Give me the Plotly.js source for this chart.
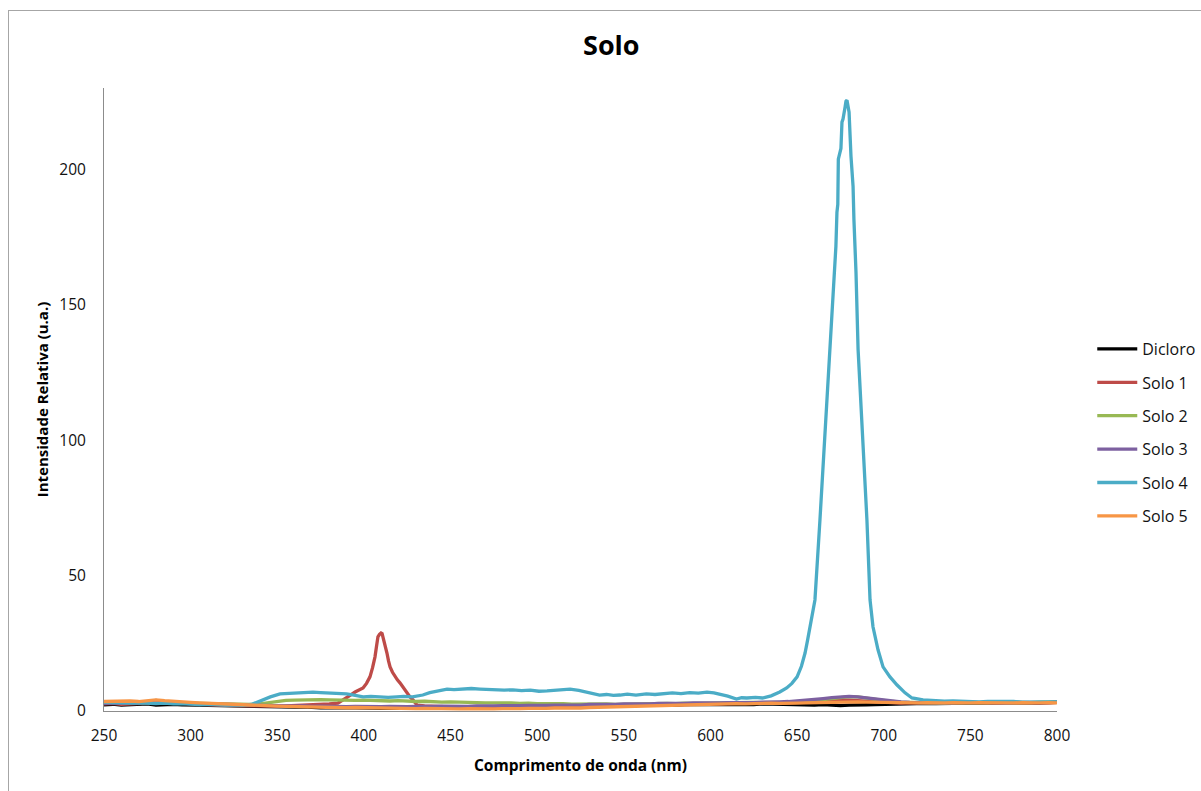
<!DOCTYPE html>
<html>
<head>
<meta charset="utf-8">
<script src="https://cdn.plot.ly/plotly-3.0.1.min.js"></script>
<style>
  html, body { margin: 0; padding: 0; background: #fff; overflow: hidden; }
  #chart { width: 1201px; height: 791px; }
  #frame { position: absolute; left: 8px; top: 10px; width: 1400px; height: 1000px;
           border: 1px solid #a6a6a6; pointer-events: none; }
</style>
</head>
<body>
<div id="chart"></div>
<div id="frame"></div>
<script>
// ---------- data ----------
const seriesNames = ["Dicloro", "Solo 1", "Solo 2", "Solo 3", "Solo 4", "Solo 5"];
const seriesColors = ["#000000", "#be4b48", "#98b954", "#7d60a0", "#4bacc6", "#f79646"];

// common wavelength grid (nm) for the flat spectra: 250, 255, ..., 800
const wl = [250,255,260,265,270,275,280,285,290,295,300,305,310,315,320,325,330,335,340,345,350,355,360,365,370,375,380,385,390,395,400,405,410,415,420,425,430,435,440,445,450,455,460,465,470,475,480,485,490,495,500,505,510,515,520,525,530,535,540,545,550,555,560,565,570,575,580,585,590,595,600,605,610,615,620,625,630,635,640,645,650,655,660,665,670,675,680,685,690,695,700,705,710,715,720,725,730,735,740,745,750,755,760,765,770,775,780,785,790,795,800];

const dicloro = [2.3,2.5,2.2,2.4,2.3,2.6,2.2,2.4,2.5,2.3,2.4,
  2.2,2.1,2.0,2.1,1.9,1.8,1.9,1.7,1.6,1.6,
  1.5,1.4,1.5,1.3,1.2,1.3,1.1,1.2,1.2,1.0,
  1.1,1.0,1.1,0.9,1.0,1.0,0.9,1.0,1.1,1.0,
  1.0,1.1,1.0,1.2,1.1,1.2,1.3,1.2,1.4,1.3,
  1.4,1.5,1.5,1.6,1.7,1.6,1.8,1.9,1.8,2.0,
  2.0,2.1,2.2,2.1,2.3,2.2,2.4,2.3,2.5,2.4,
  2.5,2.4,2.6,2.5,2.4,2.6,2.5,2.3,2.5,2.4,
  2.3,2.2,2.4,2.1,2.0,2.2,2.1,2.3,2.4,2.5,
  2.6,2.5,2.7,2.6,2.8,2.7,2.6,2.8,2.9,2.7,
  2.8,2.9,2.8,3.0,2.9,3.1,3.0,2.9,3.1,3.2];

const solo1X = [250,255,260,265,270,275,280,285,290,295,300,305,310,315,320,325,330,335,340,345,350,355,360,365,370,375,380,385,
  390.2,392,394.9,397,399.5,401.5,403.5,405,406.4,407.3,408.1,409,409.9,410.5,411,412,413.3,414.2,415.1,416.5,417.9,419.3,420.8,422.3,423.7,425.1,426.6,428.3,430.6,
  435,440,445,450,455,460,465,470,475,480,485,490,495,500,505,510,515,520,525,530,535,540,545,550,555,560,565,570,575,580,585,590,595,600,
  605,610,615,620,625,630,635,640,645,650,655,660,665,670,675,680,685,690,695,700,705,710,715,720,725,730,735,740,745,750,755,760,765,770,775,780,785,790,795,800];
const solo1Y = [2.6,2.8,2.5,2.7,2.9,2.8,3.1,3.3,3.0,2.8,2.7,2.5,2.4,2.2,2.1,2.0,1.9,1.8,1.9,1.7,1.8,1.9,2.0,2.2,2.3,2.5,2.6,2.9,
  4.8,5.8,7.0,7.6,8.5,10.2,12.6,16,20,24,27.4,28.3,28.8,28.6,27.4,24.5,21.4,18.5,16.3,14.3,12.6,11.5,10.4,9.0,7.8,6.5,5.2,4.1,2.2,
  1.9,1.7,1.6,1.5,1.5,1.4,1.3,1.4,1.3,1.2,1.3,1.2,1.3,1.4,
  1.4,1.5,1.5,1.6,1.7,1.7,1.8,1.9,2.0,2.0,2.1,2.2,2.3,2.2,2.4,2.5,2.4,2.6,2.5,2.7,
  2.6,2.8,2.7,2.9,2.8,3.0,2.9,2.8,3.0,3.1,3.2,3.4,3.6,3.9,4.1,4.0,3.8,3.5,3.3,3.1,
  3.0,2.9,3.1,3.0,2.9,3.0,3.1,2.9,3.0,3.2,3.0,3.1,2.9,3.0,3.1,3.0,3.2,3.1,3.0,3.2];

const solo2 = [3.0,3.1,2.9,3.0,3.2,3.1,3.3,3.2,3.0,2.9,2.8,
  2.7,2.6,2.5,2.4,2.3,2.3,2.4,2.6,3.0,3.6,
  3.9,4.0,4.1,4.0,4.2,4.1,4.0,4.1,3.9,4.0,
  3.8,3.9,3.7,3.8,3.6,3.5,3.6,3.4,3.3,3.4,
  3.2,3.3,3.1,3.0,3.1,2.9,3.0,2.8,2.9,2.7,
  2.8,2.6,2.7,2.5,2.6,2.4,2.5,2.6,2.4,2.5,
  2.6,2.5,2.7,2.6,2.8,2.7,2.9,2.8,3.0,2.9,
  3.0,3.1,2.9,3.0,3.2,3.1,3.0,3.2,3.3,3.4,
  3.6,3.9,4.2,4.6,5.0,5.3,5.2,4.7,4.2,3.8,
  3.5,3.3,3.2,3.0,3.1,3.0,2.9,3.1,3.0,3.2,
  3.1,3.0,3.2,3.1,3.3,3.2,3.1,3.3,3.2,3.4];

const solo3 = [2.8,3.0,2.9,3.1,3.0,3.3,3.9,3.5,3.1,2.9,2.8,
  2.7,2.5,2.4,2.3,2.2,2.1,2.0,2.1,1.9,2.0,
  1.9,1.8,1.9,1.7,1.8,1.7,1.8,1.6,1.7,1.6,
  1.7,1.6,1.7,1.5,1.6,1.7,1.6,1.7,1.8,1.7,
  1.8,1.7,1.9,1.8,1.9,2.0,1.9,2.0,2.1,2.0,
  2.1,2.2,2.1,2.3,2.2,2.4,2.3,2.5,2.4,2.6,
  2.5,2.7,2.6,2.8,2.7,2.9,2.8,3.0,2.9,3.1,
  3.0,3.1,3.0,3.2,3.1,3.3,3.2,3.4,3.5,3.7,
  3.9,4.2,4.6,4.9,5.1,5.4,5.2,4.8,4.3,3.9,
  3.6,3.4,3.2,3.1,3.2,3.0,3.1,3.0,3.2,3.1,
  3.0,3.2,3.1,3.0,3.2,3.1,3.3,3.2,3.1,3.3];

const solo4X = [250,255,260,265,270,275,280,285,290,295,300,305,310,315,320,325,330,335,
  338,342,346,351.6,356,361,366,370.6,375,380,385,390,395,399.5,404,409,414,419,423,428,434,438,442,445,448,452,457,462,467,
  472,477,481,486,491,496,501,505.7,510,515,519,524,528.8,532,536,540,544,547.8,552,557,563,568,573,578,583,588,593,598,
  602,605.5,610,615,618,621,626,630,635,640,644,647,650,652.5,654.6,656,657.5,659,660.3,
  663.2,665.5,667.8,670.1,671.2,672.4,673.0,673.5,673.8,674.7,675.3,675.9,676.5,677.7,678.2,678.8,679.4,680.0,681.1,682.3,682.8,684.0,685.2,687.5,690.3,692.1,693.8,696.7,699.6,703.6,707.7,712.3,716.3,722.7,
  730,735,740,745,750,755,760,765,770,775,780,785,790,795,800];
const solo4Y = [3.2,3.0,3.1,2.9,3.0,2.8,2.7,2.9,2.6,2.7,2.5,2.4,2.5,2.3,2.2,2.3,2.1,2.4,
  3.2,4.4,5.2,6.3,6.5,6.7,6.9,7.0,6.8,6.7,6.5,6.3,5.8,5.2,5.4,5.2,5.0,5.2,5.4,5.2,5.9,6.8,7.4,7.9,8.1,7.9,8.1,8.3,8.1,
  7.9,8.0,7.7,7.8,7.5,7.7,7.3,7.4,7.6,7.9,8.1,7.6,7.0,6.4,5.9,6.1,5.8,5.9,6.2,5.9,6.3,6.1,6.5,6.7,6.4,6.8,6.6,7.0,
  6.7,6.3,5.5,4.4,4.9,4.8,5.0,4.8,5.6,7.0,8.5,10.2,12.6,16.5,21.4,26,31,36,41,
  70.6,96.5,122.4,144.5,161.9,171.5,184.1,187,203.7,206.7,207.7,217.4,218.5,223,225.1,225.5,223.7,221.1,204.8,193.7,181.5,161.9,133.5,103.9,70.6,41.0,31.1,22.6,16.3,12.6,9.6,6.7,4.8,4.1,
  3.8,3.6,3.7,3.5,3.6,3.4,3.5,3.6,3.4,3.5,3.3,3.4,3.5,3.3,3.4];

const solo5 = [3.5,3.6,3.4,3.7,3.5,3.8,4.1,3.8,3.5,3.3,3.2,
  3.0,2.9,2.7,2.6,2.4,2.3,2.2,2.0,1.9,1.8,
  1.7,1.6,1.5,1.5,1.4,1.3,1.4,1.2,1.3,1.2,
  1.1,1.2,1.0,1.1,1.0,0.9,1.0,0.9,0.8,0.9,
  0.8,0.9,0.8,0.7,0.8,0.9,0.8,0.9,1.0,0.9,
  1.0,1.1,1.0,1.2,1.1,1.3,1.4,1.3,1.5,1.6,
  1.7,1.8,1.9,2.0,2.1,2.2,2.3,2.2,2.4,2.5,
  2.5,2.6,2.7,2.6,2.8,2.7,2.9,2.8,3.0,2.9,
  3.0,3.1,3.2,3.3,3.4,3.5,3.4,3.3,3.2,3.1,
  3.0,3.1,2.9,3.0,3.1,2.9,3.0,3.1,2.9,3.0,
  3.1,3.0,2.9,3.1,3.0,3.1,2.9,3.0,3.1,3.0];

const xTicks = [250,300,350,400,450,500,550,600,650,700,750,800];
const yTicks = [0,50,100,150,200];

// ---------- chart ----------
const xs = [wl, solo1X, wl, wl, solo4X, wl];
const ys = [dicloro, solo1Y, solo2, solo3, solo4Y, solo5];

const FONT = '"Open Sans", "Noto Sans", sans-serif';
const traces = seriesNames.map((name, i) => ({
  type: 'scatter', mode: 'lines', name: name,
  x: xs[i], y: ys[i],
  legendgroup: 'g' + i,
  line: { color: seriesColors[i], width: 3.3 },
  hoverinfo: 'x+y+name'
}));

const layout = {
  width: 1201, height: 791,
  paper_bgcolor: '#ffffff', plot_bgcolor: '#ffffff',
  margin: { l: 104, r: 144, t: 88, b: 80, autoexpand: false },
  font: { family: FONT, color: '#111111', size: 15 },
  title: { text: '<b>Solo</b>', x: 0.509, xanchor: 'center', y: 0.943, yanchor: 'middle',
           font: { family: FONT, size: 27, color: '#000000' } },
  xaxis: {
    range: [250, 800], tickvals: xTicks, ticktext: xTicks.map(String),
    showgrid: false, zeroline: false, showline: true, linecolor: '#8c8c8c', linewidth: 1,
    ticks: '', ticklabelstandoff: 10, automargin: false,
    tickfont: { family: FONT, size: 15.5, color: '#111111' },
    title: { text: '<b>Comprimento de onda (nm)</b>', standoff: 15,
             font: { family: FONT, size: 15.5, color: '#000000' } }
  },
  yaxis: {
    range: [0, 230], tickvals: yTicks, ticktext: yTicks.map(String),
    showgrid: false, zeroline: false, showline: true, linecolor: '#8c8c8c', linewidth: 1,
    ticks: '', ticklabelstandoff: 14, automargin: false,
    tickfont: { family: FONT, size: 15.5, color: '#111111' },
    title: { text: '<b>Intensidade Relativa (u.a.)</b>', standoff: 7,
             font: { family: FONT, size: 15, color: '#000000' } }
  },
  showlegend: true,
  legend: {
    x: 1.037, xanchor: 'left', y: 0.447, yanchor: 'middle',
    bgcolor: 'rgba(0,0,0,0)', borderwidth: 0,
    font: { family: FONT, size: 16, color: '#111111' },
    itemwidth: 40, tracegroupgap: 9.6, traceorder: 'grouped'
  }
};

Plotly.newPlot('chart', traces, layout, { displayModeBar: false, staticPlot: true });
</script>
</body>
</html>
